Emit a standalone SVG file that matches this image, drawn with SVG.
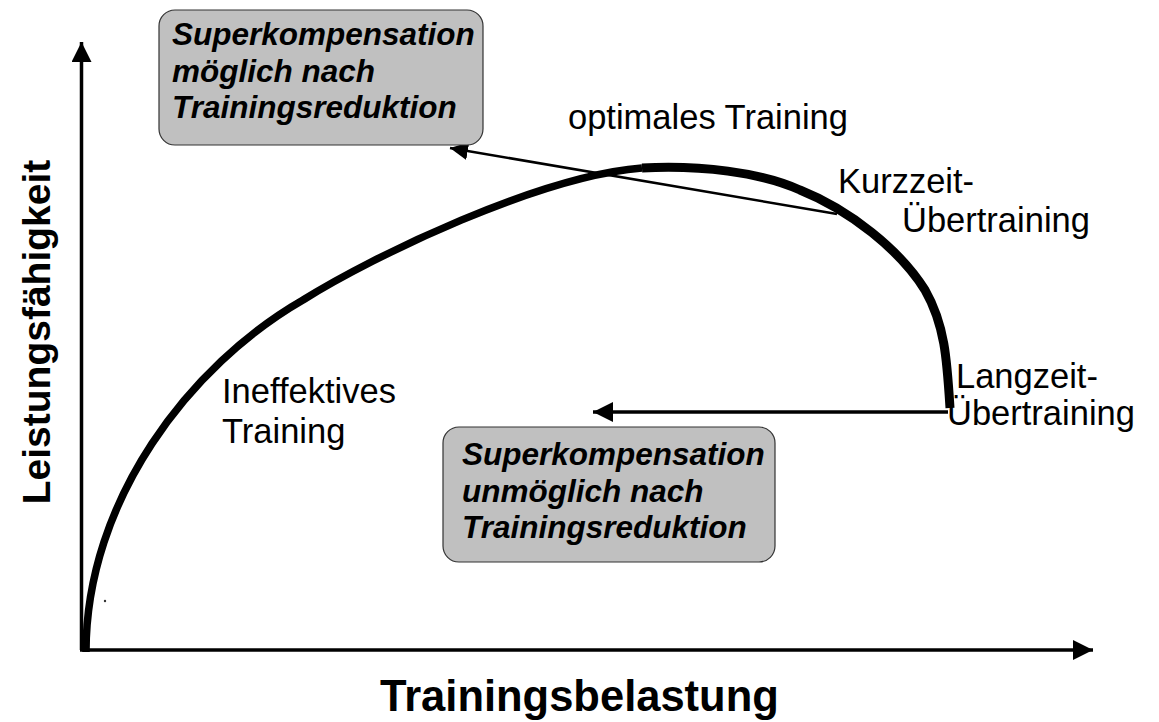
<svg xmlns="http://www.w3.org/2000/svg" width="1159" height="722" viewBox="0 0 1159 722">
<style>
.lbl{font-family:"Liberation Sans",Arial,sans-serif;font-size:34.5px;fill:#000}
.box{fill:#c0c0c0;stroke:#333;stroke-width:1.2}
.bt{font-family:"Liberation Sans",Arial,sans-serif;font-size:31.5px;font-weight:bold;font-style:italic;fill:#000}
.axt{font-family:"Liberation Sans",Arial,sans-serif;font-weight:bold;fill:#000}
.ax{stroke:#000;stroke-width:3.5;fill:none}
</style>
<defs>
<marker id="ah" viewBox="0 0 20 20" refX="20" refY="10" markerWidth="20" markerHeight="20" markerUnits="userSpaceOnUse" orient="auto">
<path d="M0,0 L20,10 L0,20 z" fill="#000"/>
</marker>
<marker id="ahs" viewBox="0 0 18 18" refX="18" refY="9" markerWidth="18" markerHeight="18" markerUnits="userSpaceOnUse" orient="auto">
<path d="M0,0 L18,9 L0,18 z" fill="#000"/>
</marker>
</defs>
<g id="connectors">
<path class="ax" d="M81.5,650 L81.5,42" marker-end="url(#ah)"/>
<path class="ax" d="M80,650 L1093,650" marker-end="url(#ah)"/>
<path d="M86,652 C86,500 190,365 303,300 C375,255 540,176 642,168" fill="none" stroke="#000" stroke-width="7.5"/>
<path d="M642,168 C700,165 760,172 800,190 C850,210 900,250 925,290 C945,325 947,360 950,408" fill="none" stroke="#000" stroke-width="9"/>
<path d="M837,214 L450,148" stroke="#000" stroke-width="2.5" fill="none" marker-end="url(#ahs)"/>
<path d="M948,412 L593,412" stroke="#000" stroke-width="3.5" fill="none" marker-end="url(#ah)"/>
<circle cx="105" cy="601" r="1.2" fill="#333"/>
</g>
<g id="box1">
<rect class="box" x="159" y="10" width="324" height="135" rx="16"/>
<text class="bt" x="172" y="45">Superkompensation</text>
<text class="bt" x="172" y="82">möglich nach</text>
<text class="bt" x="172" y="118">Trainingsreduktion</text>
</g>
<g id="box2">
<rect class="box" x="443" y="427" width="332" height="135" rx="16"/>
<text class="bt" x="462" y="465">Superkompensation</text>
<text class="bt" x="462" y="502">unmöglich nach</text>
<text class="bt" x="462" y="538">Trainingsreduktion</text>
</g>
<g id="labels">
<text class="lbl" x="568" y="129">optimales Training</text>
<text class="lbl" x="838" y="193">Kurzzeit-</text>
<text class="lbl" x="902" y="232">Übertraining</text>
<text class="lbl" x="956" y="388">Langzeit-</text>
<text class="lbl" x="947" y="425">Übertraining</text>
<text class="lbl" x="222" y="403">Ineffektives</text>
<text class="lbl" x="222" y="443">Training</text>
<text class="axt" x="380" y="711" font-size="43.5">Trainingsbelastung</text>
<text class="axt" transform="translate(50,332) rotate(-90)" text-anchor="middle" font-size="39">Leistungsfähigkeit</text>
</g>
</svg>
